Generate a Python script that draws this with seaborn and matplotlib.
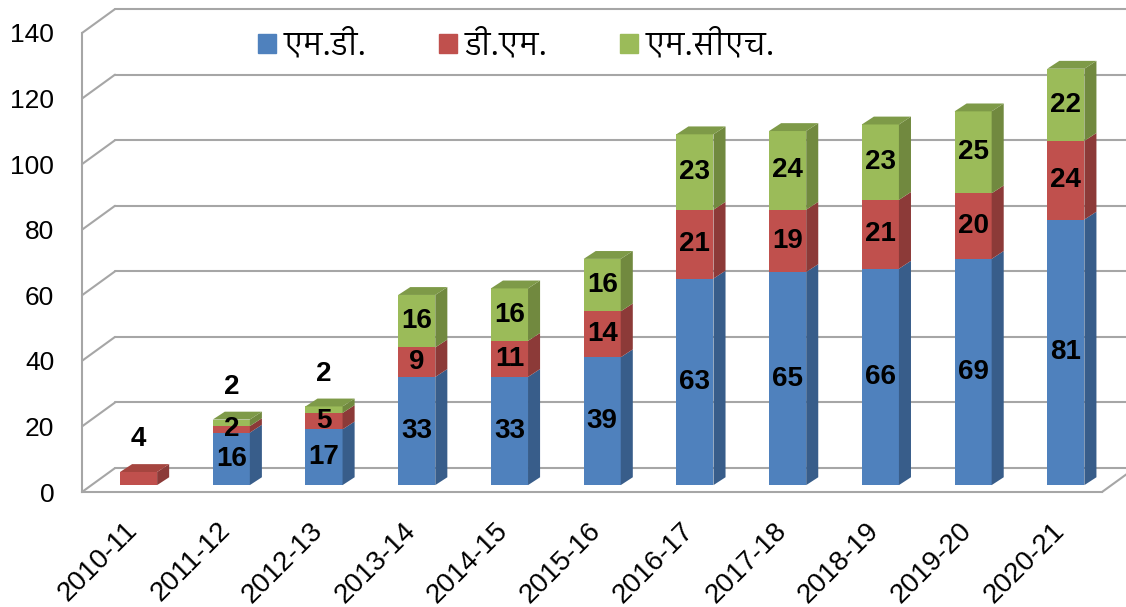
import numpy as np
import pandas as pd
import matplotlib
matplotlib.use('Agg')
import matplotlib.pyplot as plt
import seaborn as sns
from matplotlib import font_manager
from matplotlib.ft2font import FT2Font
from matplotlib.patches import Polygon, Patch
from matplotlib.transforms import ScaledTranslation

# dados
anos = ['2010-11', '2011-12', '2012-13', '2013-14', '2014-15', '2015-16',
        '2016-17', '2017-18', '2018-19', '2019-20', '2020-21']
md = [0, 16, 17, 33, 33, 39, 63, 65, 66, 69, 81]
dm = [4, 2, 5, 9, 11, 14, 21, 19, 21, 20, 24]
mch = [0, 2, 2, 16, 16, 16, 23, 24, 23, 25, 22]
series_nomes = ['एम.डी.', 'डी.एम.', 'एम.सीएच.']

cores = ['#4F81BD', '#C0504D', '#9BBB59']
cores_lado = ['#385D8A', '#8C3A38', '#71893F']
cores_topo = ['#3F6A9C', '#A5453F', '#7E9A48']
cinza = '#A6A6A6'

sns.set_style('white')
plt.rcParams['text.color'] = 'black'
plt.rcParams['xtick.labelcolor'] = 'black'
plt.rcParams['ytick.labelcolor'] = 'black'

# procurar uma fonte com devanagari (preferir Sans normal)
candidatas = []
for f in font_manager.fontManager.ttflist:
    try:
        if FT2Font(f.fname).get_char_index(ord('ए')):
            candidatas.append(f)
    except Exception:
        pass

def nota(f):
    s = 0
    if 'Devanagari' in f.name:
        s += 4
    if 'Sans' in f.name:
        s += 2
    if 'Mono' in f.name or 'UI' in f.name:
        s -= 3
    if f.weight in (400, 'normal', 'regular') and f.style == 'normal':
        s += 1
    return s

candidatas.sort(key=nota, reverse=True)
fonte_deva = candidatas[0].name if candidatas else None
familias = ['Liberation Sans'] + ([fonte_deva] if fonte_deva else []) + ['DejaVu Sans']
plt.rcParams['font.family'] = familias

df = pd.DataFrame({'ano': anos, 'md': md, 'dm': dm, 'mch': mch})
df['c1'] = df['md']
df['c2'] = df['md'] + df['dm']
df['c3'] = df['c2'] + df['mch']

fig = plt.figure(figsize=(11.26, 6.07), dpi=100)
ax = fig.add_axes([82 / 1126, 115 / 607, 1020 / 1126, 459 / 607])

largura = 0.4
# barras empilhadas (sobrepostas do total para baixo)
sns.barplot(data=df, x='ano', y='c3', color=cores[2], width=largura, saturation=1, linewidth=0, ax=ax, zorder=3)
sns.barplot(data=df, x='ano', y='c2', color=cores[1], width=largura, saturation=1, linewidth=0, ax=ax, zorder=3)
sns.barplot(data=df, x='ano', y='c1', color=cores[0], width=largura, saturation=1, linewidth=0, ax=ax, zorder=3)

# efeito 3D (em unidades dos eixos)
BX, BY = 0.11, 2.1      # plano das barras
DX, DY = 0.13, 2.4      # profundidade das barras
WX, WY = 0.356, 7.3     # profundidade da parede

for p in ax.patches:
    p.set_x(p.get_x() + BX)
    p.set_y(p.get_y() + BY)
    p.set_clip_on(False)

for i in range(len(anos)):
    segs = [(0, df['c1'][i]), (df['c1'][i], df['c2'][i]), (df['c2'][i], df['c3'][i])]
    xr = i + BX + largura / 2
    xl = i + BX - largura / 2
    topo = None
    for k, (b, t) in enumerate(segs):
        if t > b:
            ax.add_patch(Polygon([(xr, b + BY), (xr + DX, b + BY + DY), (xr + DX, t + BY + DY), (xr, t + BY)],
                                 closed=True, fc=cores_lado[k], ec='none', zorder=3, clip_on=False))
            topo = (k, t)
    if topo:
        k, t = topo
        ax.add_patch(Polygon([(xl, t + BY), (xl + DX, t + BY + DY), (xr + DX, t + BY + DY), (xr, t + BY)],
                             closed=True, fc=cores_topo[k], ec='none', zorder=3, clip_on=False))
    # rotulos
    vals = [md[i], dm[i], mch[i]]
    for k, (b, t) in enumerate(segs):
        v = vals[k]
        if v == 0:
            continue
        if topo and k == topo[0] and v < 5:
            ax.text(i + BX, t + BY + 6, str(v), ha='center', va='bottom', fontsize=20,
                    fontweight='bold', zorder=5)
        else:
            ax.text(i + BX, b + BY + v / 2, str(v), ha='center', va='center', fontsize=20,
                    fontweight='bold', zorder=5)

# grade na parede do fundo
n = len(anos)
for v in range(0, 141, 20):
    ax.plot([-0.5, -0.5 + WX], [v, v + WY], color=cinza, lw=1.5, zorder=1, clip_on=False)
    ax.plot([-0.5 + WX, n - 0.5 + WX], [v + WY, v + WY], color=cinza, lw=1.5, zorder=1, clip_on=False)
ax.plot([n - 0.5, n - 0.5 + WX], [0, WY], color=cinza, lw=1.5, zorder=1, clip_on=False)

ax.set_xlim(-0.5, n - 0.5)
ax.set_ylim(0, 140)
ax.set_xlabel('')
ax.set_ylabel('')

for lado in ['top', 'right']:
    ax.spines[lado].set_visible(False)
for lado in ['left', 'bottom']:
    ax.spines[lado].set_color(cinza)
    ax.spines[lado].set_linewidth(1.5)

ax.set_yticks(range(0, 141, 20))
ax.tick_params(axis='y', length=6, width=1.5, color=cinza, pad=14, labelsize=19)
ax.set_xticks(range(n))
ax.set_xticklabels(anos, rotation=45, ha='right', va='center', rotation_mode='anchor', fontsize=20)
ax.set_xticks(np.arange(-0.5, n, 1), minor=True)
ax.tick_params(axis='x', which='major', length=0, pad=25)
ax.tick_params(axis='x', which='minor', length=6, width=1.5, color=cinza)
for lbl in ax.get_xticklabels():
    lbl.set_transform(lbl.get_transform() + ScaledTranslation(0.05, 0, fig.dpi_scale_trans))

# legenda
handles = [Patch(color=c, label=s) for c, s in zip(cores, series_nomes)]
fam_leg = ([fonte_deva] if fonte_deva else []) + ['Liberation Sans', 'DejaVu Sans']
fig.legend(handles=handles, loc='center left', bbox_to_anchor=(258 / 1126, 1 - 45 / 607), ncol=3,
           frameon=False, prop={'family': fam_leg, 'size': 22.5}, handlelength=0.58, handleheight=0.58,
           handletextpad=0.25, columnspacing=2.3, borderpad=0, borderaxespad=0)

fig.savefig('out.png', dpi=100)
